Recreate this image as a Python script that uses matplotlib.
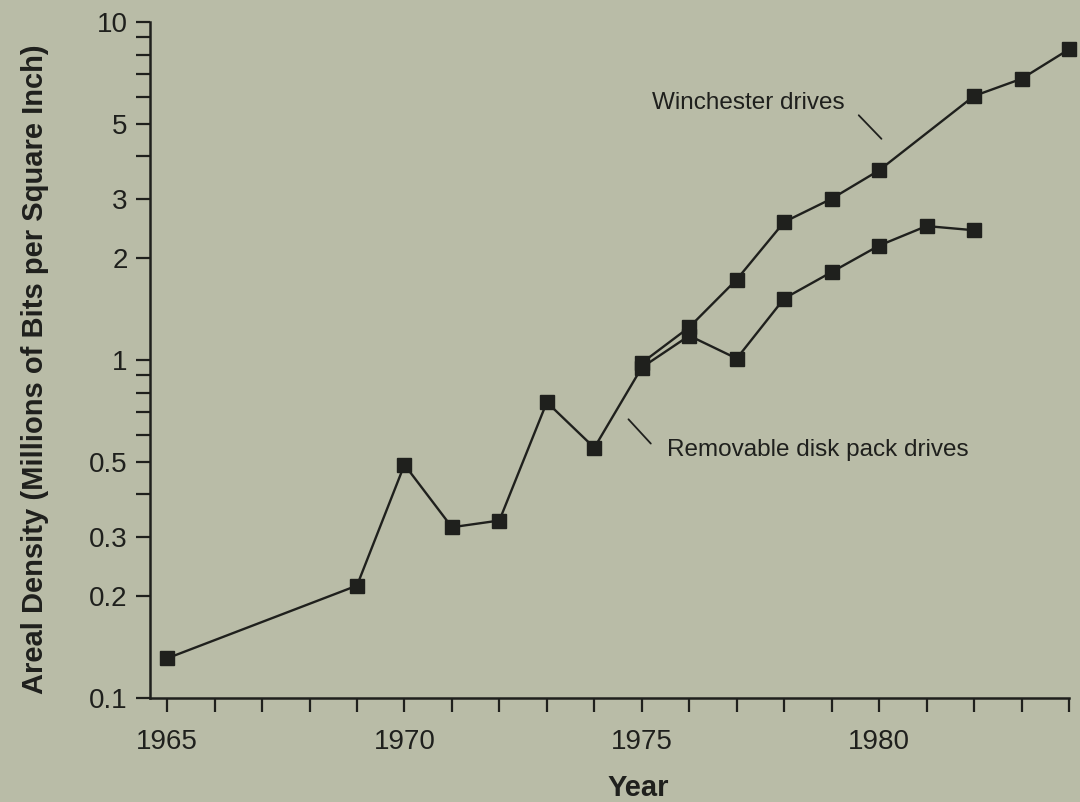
import matplotlib
matplotlib.use("Agg")
import matplotlib.pyplot as plt
from matplotlib.ticker import FixedLocator, NullFormatter

# valores (escala log)
removable_years = [1965, 1969, 1970, 1971, 1972, 1973, 1974, 1975, 1976, 1977, 1978, 1979, 1980, 1981, 1982]
removable = [0.131, 0.215, 0.49, 0.32, 0.335, 0.75, 0.55, 0.95, 1.18, 1.01, 1.52, 1.82, 2.18, 2.49, 2.42]

winchester_years = [1975, 1976, 1977, 1978, 1979, 1980, 1982, 1983, 1984]
winchester = [0.98, 1.25, 1.73, 2.56, 3.0, 3.64, 6.04, 6.79, 8.3]

year_labels = [1965, 1970, 1975, 1980]
all_years = list(range(1965, 1985))
y_labels = [0.1, 0.2, 0.3, 0.5, 1, 2, 3, 5, 10]
y_minor = [0.4, 0.6, 0.7, 0.8, 0.9, 4, 6, 7, 8, 9]

paper = "#b9bca7"
ink = "#1f201d"

plt.rcParams.update({
    "font.family": ["Liberation Sans Narrow", "Liberation Sans", "DejaVu Sans"],
    "font.size": 19,
})

fig = plt.figure(figsize=(10.8, 8.02), dpi=100, facecolor=paper)
ax = fig.add_axes([0.1389, 0.1297, 0.8509, 0.8429], facecolor=paper)

ax.plot(removable_years, removable, color=ink, linewidth=1.7, clip_on=False,
        marker="s", markersize=9.5, markerfacecolor=ink, markeredgecolor=ink)
ax.plot(winchester_years, winchester, color=ink, linewidth=1.7, clip_on=False,
        marker="s", markersize=9.5, markerfacecolor=ink, markeredgecolor=ink)

ax.set_yscale("log")
ax.set_ylim(0.1, 10)
ax.set_xlim(1964.64, 1984)

ax.yaxis.set_major_locator(FixedLocator(y_labels))
ax.yaxis.set_minor_locator(FixedLocator(y_minor))
ax.set_yticklabels(["0.1", "0.2", "0.3", "0.5", "1", "2", "3", "5", "10"])
ax.yaxis.set_minor_formatter(NullFormatter())

ax.xaxis.set_major_locator(FixedLocator(year_labels))
ax.xaxis.set_minor_locator(FixedLocator(all_years))
ax.set_xticklabels([str(y) for y in year_labels])

for s in ["top", "right"]:
    ax.spines[s].set_visible(False)
for s in ["left", "bottom"]:
    ax.spines[s].set_color(ink)
    ax.spines[s].set_linewidth(1.8)

ax.tick_params(which="both", direction="out", length=10, width=1.6, color=ink,
               labelcolor=ink, labelsize=20)
ax.tick_params(axis="x", pad=12)
ax.tick_params(axis="y", pad=6)

ax.set_xlabel("Year", fontsize=21, fontweight="bold", color=ink)
ax.xaxis.set_label_coords(0.531, -0.113)
ax.set_ylabel("Areal Density (Millions of Bits per Square Inch)", fontsize=21,
              fontweight="bold", color=ink)
ax.yaxis.set_label_coords(-0.11, 0.487)

ax.text(1975.21, 5.75, "Winchester drives", fontsize=17.5, color=ink, va="center")
ax.annotate("", xy=(1980.09, 4.45), xytext=(1979.53, 5.37),
            arrowprops=dict(arrowstyle="-", color=ink, lw=1.3))
ax.text(1975.53, 0.543, "Removable disk pack drives", fontsize=17.5, color=ink, va="center")
ax.annotate("", xy=(1975.23, 0.558), xytext=(1974.68, 0.677),
            arrowprops=dict(arrowstyle="-", color=ink, lw=1.3))

fig.savefig("out.png", dpi=100, facecolor=paper)
